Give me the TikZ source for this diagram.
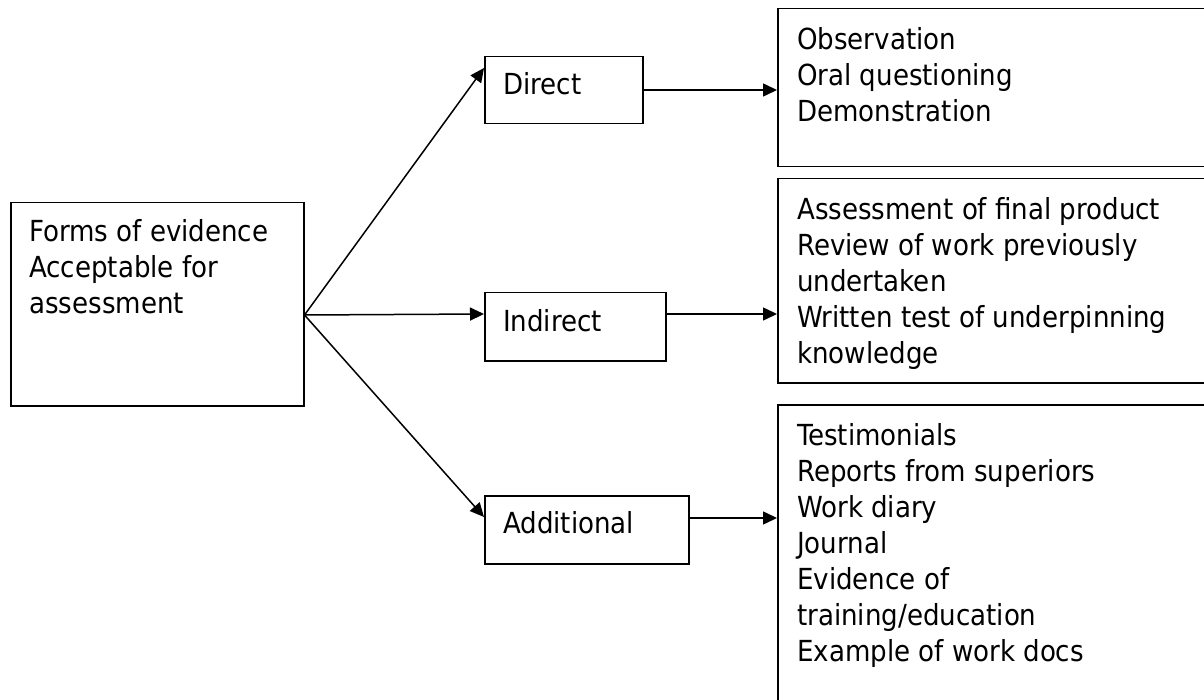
\documentclass[tikz,border=0pt]{standalone}
\usepackage{fontspec}
\setmainfont{DejaVu Sans Condensed}
\usetikzlibrary{arrows.meta,calc}
\begin{document}
\begin{tikzpicture}[x=1pt,y=-1pt,
  box/.style={draw,line width=1.5pt,inner sep=0pt,anchor=north west},
  txt/.style={anchor=base west,inner sep=0pt,align=left,font=\fontsize{29}{36}\selectfont},
  arr/.style={line width=1.5pt,-{Triangle[length=14pt,width=13pt]}}]
\clip (0,0) rectangle (1204,700);
\fill[white] (0,0) rectangle (1204,700);
% boxes
\node[box,minimum width=293pt,minimum height=203pt] (src) at (10,202) {};
\node[box,minimum width=158pt,minimum height=67pt] (dir) at (484,56) {};
\node[box,minimum width=181pt,minimum height=68pt] (ind) at (484,292) {};
\node[box,minimum width=204pt,minimum height=68pt] (add) at (484,495) {};
\node[box,minimum width=450pt,minimum height=158pt] (b1) at (777,8) {};
\node[box,minimum width=450pt,minimum height=204pt] (b2) at (777,178) {};
\node[box,minimum width=450pt,minimum height=330pt] (b3) at (777,404) {};
% texts (anchor at the baseline of the last line)
\node[txt] (tsrc) at (29,314) {Forms of evidence\\Acceptable for\\assessment};
\node[txt] (tdir) at (503,95) {Direct};
\node[txt] (tind) at (503,332) {Indirect};
\node[txt] (tadd) at (503,533) {Additional};
\node[txt] (tb1) at (797,122) {Observation\\Oral questioning\\Demonstration};
\node[txt] (tb2) at (797,363) {Assessment of final product\\Review of work previously\\undertaken\\Written test of underpinning\\knowledge};
\node[txt] (tb3) at (797,661) {Testimonials\\Reports from superiors\\Work diary\\Journal\\Evidence of\\training/education\\Example of work docs};
% connector points
\path (src.north east) ++(0,113) coordinate (apex);
\path (dir.north west) ++(0,12) coordinate (dirin);
\path (ind.north west) ++(0,22) coordinate (indin);
\path (add.north west) ++(0,22) coordinate (addin);
\path (dir.north east) ++(0,34) coordinate (dirout);
\path (ind.north east) ++(0,22) coordinate (indout);
\path (add.north east) ++(0,23) coordinate (addout);
% connectors
\draw[arr] (apex) -- (dirin);
\draw[arr] (apex) -- (indin);
\draw[arr] (apex) -- (addin);
\draw[arr] (dirout) -- (dirout -| b1.west);
\draw[arr] (indout) -- (indout -| b2.west);
\draw[arr] (addout) -- (addout -| b3.west);
\end{tikzpicture}
\end{document}
